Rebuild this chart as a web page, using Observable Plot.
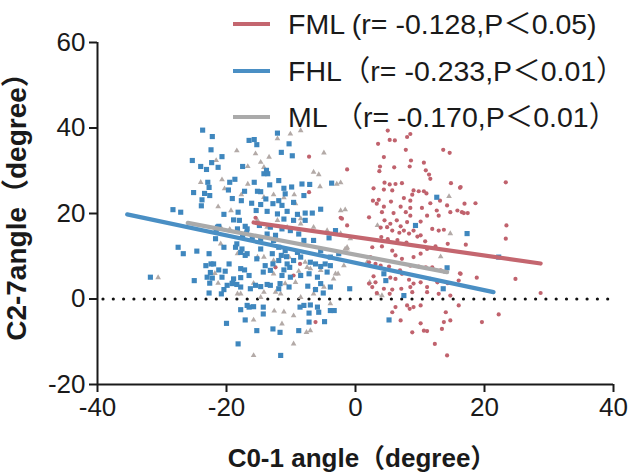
<!DOCTYPE html>
<html><head><meta charset="utf-8">
<script src="https://cdn.jsdelivr.net/npm/d3@7"></script>
<script src="https://cdn.jsdelivr.net/npm/@observablehq/plot@0.6"></script>
<style>
body{margin:0;background:#fff;}
#wrap{position:relative;width:635px;height:475px;}
svg{font-family:"Liberation Sans",Arial,"Noto Sans CJK SC",sans-serif;}
</style></head><body><div id="wrap"></div>
<script>
// ---- data ----
const xTicks = [-40, -20, 0, 20, 40];
const yTicks = [-20, 0, 20, 40, 60];
const xLabel = "C0-1 angle（degree）";
const yLabel = "C2-7angle（degree）";
const seriesNames = ["FML (r= -0.128,P＜0.05)", "FHL（r= -0.233,P＜0.01）", "ML （r= -0.170,P＜0.01）"];
const seriesColors = ["#c4666f", "#4a8fc4", "#aaaaaa"];

const fhlPts = [[-23.7,39.5],[-22.2,38.0],[-22.4,34.9],[-25.3,32.4],[-22.3,31.9],[-20.7,33.3],[-24.0,31.0],[-23.1,30.3],[-21.3,30.8],[-17.5,31.0],[-16.5,37.1],[-22.9,27.3],[-19.5,27.3],[-18.7,28.0],[-22.7,26.1],[-25.1,24.9],[-23.4,24.7],[-22.6,24.2],[-19.7,25.5],[-17.2,25.2],[-23.8,23.2],[-19.1,23.5],[-23.9,21.8],[-17.7,23.0],[-28.3,20.9],[-27.1,20.3],[-20.4,19.8],[-18.2,20.3],[-18.9,18.5],[-18.0,18.4],[-21.2,17.0],[-17.1,17.0],[-21.6,15.8],[-16.9,15.4],
[-12.1,38.8],[-10.3,36.3],[-15.7,37.3],[-15.3,36.1],[-11.5,34.3],[-9.8,33.5],[-13.8,30.1],[-14.2,29.3],[-13.6,29.3],[-11.9,27.7],[-15.7,27.3],[-13.3,26.7],[-11.1,25.9],[-9.9,26.2],[-8.3,26.9],[-7.1,26.8],[-3.7,27.1],[-15.2,25.2],[-14.7,25.1],[-10.9,24.6],[-8.0,24.2],[-13.9,23.4],[-11.9,23.0],[-16.1,22.4],[-14.7,22.1],[-12.8,22.3],[-11.4,21.9],[-9.6,22.6],[-5.4,21.0],[-15.4,20.7],[-13.7,20.5],[-12.1,19.9],[-10.6,20.5],[-9.0,19.8],[-7.8,20.1],[-6.7,20.1],[-11.1,18.7],[-9.6,18.4],[-7.8,18.4],[-14.9,17.2],[-13.2,16.8],[-11.4,16.4],[-10.1,16.0],[-8.8,15.2],[-12.4,14.9],[-4.1,14.3],
[-27.5,12.1],[-26.7,10.6],[-24.6,11.2],[-22.7,10.6],[-23.2,7.8],[-22.4,8.2],[-31.8,5.1],[-25.0,4.3],[-22.5,6.2],[-22.2,4.9],[-22.6,3.7],[-21.2,6.8],[-20.2,6.5],[-22.7,1.4],[-20.8,1.2],[-20.4,2.2],[-19.9,3.2],[-19.1,3.7],[-18.4,3.4],[-18.9,4.7],[-17.8,7.1],[-17.2,6.8],[-17.8,5.0],[-18.4,12.9],[-17.6,11.7],[-17.1,10.2],[-17.8,-2.5],[-17.1,-4.9],[-20.0,-5.7],[-18.2,-10.5],[-16.8,-1.5],
[-15.3,-7.4],[-12.8,-7.0],[-11.7,-7.8],[-8.8,-7.4],[-7.2,-5.4],[-4.8,-5.3],[-11.6,-13.2],[-15.8,-1.8],[-14.3,-1.9],[-14.3,-3.5],[-8.6,-1.9],[-8.0,-1.5],[-7.0,-1.4],[-5.9,-1.9],[-5.7,-3.1],[-3.9,-2.7],[-3.3,-2.7],[-7.2,-3.3],[-16.5,-1.9],
[-15.3,9.4],[-14.7,11.7],[-14.0,7.8],[-14.3,6.3],[-13.2,6.7],[-12.8,8.2],[-11.9,9.0],[-11.5,10.2],[-10.7,9.9],[-11.1,6.8],[-11.4,5.5],[-10.2,7.4],[-9.6,9.0],[-11.9,12.1],[-10.9,11.3],[-12.9,10.6],[-15.5,3.2],[-14.7,2.9],[-13.7,3.4],[-13.2,3.2],[-11.7,3.6],[-10.3,2.8],[-6.2,8.2],[-5.4,7.6],[-4.7,8.2],[-3.9,7.8],[-7.2,5.9],[-7.4,3.0],[-6.2,2.2],[-5.0,1.4],[-0.9,2.4],
[-21.4,16.8],[-21.7,14.1],[-20.4,12.1],[-18.3,16.4],[-16.8,16.4],[-16.0,14.5],[-17.5,14.9],[-14.7,14.1],[-13.7,15.2],[-12.7,13.7],[-8.0,13.7],[-6.5,13.7],[-18.6,12.1],[-17.8,10.9],[-16.8,10.6],[-19.6,8.2],[-16.5,5.5],[-22.0,8.2],[-23.0,5.1],[-20.7,5.1],[-19.1,3.6],[-17.8,2.8],[-16.3,2.4],
[-9.0,10.9],[-5.4,11.3],[-3.9,9.8],[-2.6,10.6],[-10.6,8.2],[-8.5,5.5],[-5.9,5.1],[-4.4,6.3],[-7.0,8.6],[-8.5,9.8],[-5.4,3.6],[-3.9,2.8],[-11.9,2.4],[-10.1,5.1],
[-3.1,16.0],[12.6,23.8],[9.3,17.2],[17.3,15.3],[4.4,5.9],[4.7,4.3],[7.5,0.8],[5.2,-4.9],[13.6,2.4],[14.2,7.3],[22.2,9.8]];

const fmlPts = [[-7.2,33.3],[-1.3,30.3],[-7.2,25.0],[-15.5,19.0],[-2.3,19.0],[-1.3,17.2],[2.1,19.1],[-8.6,8.2],[-9.6,5.5],[-6.3,2.4],[-6.2,-5.4],[-12.4,7.4],[2.1,3.6],[2.1,8.6],[-2.1,18.8],
[5.0,39.4],[8.5,38.6],[8.0,37.9],[5.3,37.2],[6.1,37.1],[3.5,36.3],[7.8,34.9],[13.6,34.9],[14.6,34.2],[4.4,33.2],[8.6,32.4],[10.6,31.9],[3.8,31.0],[6.0,30.8],[8.4,31.0],[3.7,29.9],[10.9,30.1],[11.4,29.1],[11.6,28.1],[4.5,27.2],[5.3,26.8],[6.2,26.9],[7.2,27.1],[14.8,27.1],[2.8,25.9],[4.4,25.6],[5.7,25.4],[9.0,25.4],[9.8,25.2],[10.6,25.2],[11.0,24.7],[16.2,26.0],[8.8,24.4],[7.5,23.6],[2.7,23.0],[3.6,23.2],[5.5,22.8],[8.5,23.0],[11.6,22.4],[13.1,23.0],[3.3,22.3],[4.4,21.6],[7.0,21.6],[8.5,21.3],[10.3,21.3],[12.6,20.7],[14.2,21.9],[4.1,20.3],[5.9,20.1],[7.8,20.3],[8.5,19.5],[11.1,19.5],[12.9,19.5],[14.7,20.3],[15.8,20.7],[16.5,20.3],[4.5,18.4],[5.4,17.6],[6.4,18.4],[7.0,17.0],[8.0,18.0],[10.1,18.1],[11.9,16.4],[12.9,16.0],[13.7,16.2],[4.9,16.8],[3.9,16.7],[5.7,16.0],[7.5,16.0],[9.0,16.0],[10.1,14.9],
[6.8,15.5],[8.3,15.3],[9.6,14.6],[10.8,13.5],[7.9,13.2],[6.5,13.8],[5.0,14.0],[4.0,14.5],
[2.6,12.1],[4.1,12.3],[5.7,11.3],[6.2,10.2],[7.2,9.4],[9.0,9.8],[10.1,10.6],[11.1,11.7],[12.4,12.3],[14.3,12.9],[3.1,8.2],[3.9,7.8],[5.2,7.6],[6.9,6.7],[7.2,5.9],[8.5,7.8],[9.8,7.6],[10.9,7.4],[11.9,7.4],[13.2,6.7],[16.2,6.0],[2.8,5.3],[3.1,3.9],[5.4,5.0],[6.2,4.7],[8.3,4.5],[9.0,3.6],[10.1,3.9],[11.6,4.7],[12.7,3.9],[14.3,3.7],[16.0,4.3],[2.6,2.8],[4.4,2.4],[5.7,2.2],[7.1,2.4],[8.5,2.8],[8.8,1.6],[11.1,2.8],[3.3,1.4],[5.3,1.2],[11.1,1.6],[12.9,1.2],[14.7,0.8],[16.0,-1.5],[8.0,-1.5],[8.4,-2.3],[9.0,-1.9],[10.1,-1.5],[5.7,-3.1],[6.2,-1.9],[14.0,-3.1],[7.0,-5.0],[10.1,-5.7],[13.7,-5.4],[14.7,-5.0],[10.6,-7.4],[13.4,-7.0],[8.8,-7.8],[11.1,-7.5],[12.3,-10.5],[14.2,-13.2],[2.3,9.8],
[16.3,26.2],[16.9,22.3],[18.6,22.4],[16.8,20.1],[17.4,20.1],[23.3,27.3],[23.4,17.2],[23.3,14.1],[17.1,12.7],[16.3,5.9],[18.8,5.0],[24.8,4.7],[28.7,1.4],[22.2,-3.6],[19.6,-5.4]];

const mlPts = [[-18.4,34.7],[-21.6,32.4],[-24.0,27.3],[-20.7,27.9],[-20.3,25.8],[-21.3,21.6],[-19.3,20.7],[-16.7,31.0],[-16.7,26.9],[-19.5,16.3],[-17.7,24.4],
[-10.1,38.6],[-8.5,39.4],[-12.1,37.5],[-13.4,33.2],[-4.9,34.2],[-6.5,29.7],[-5.7,29.1],[-5.5,26.3],[-2.9,26.9],[-2.3,27.2],[-14.7,32.0],[-14.2,30.8],[-9.5,24.4],[-9.3,22.3],[-2.3,20.7],[-1.6,20.9],[-15.5,34.0],[-11.1,23.7],[-12.7,24.4],[-8.5,17.6],[-14.2,23.8],
[-30.6,5.0],[-20.9,12.9],[-21.3,3.7],[-18.3,1.2],[-21.8,6.0],[-18.3,10.6],
[-14.2,9.8],[-12.7,5.9],[-7.8,8.6],[-7.0,7.1],[-8.8,6.5],[-2.7,5.9],[-1.8,7.8],[-1.3,11.7],[-9.3,3.9],[-4.9,2.8],[-3.9,-1.1],[-15.8,3.7],[-14.2,1.6],[-12.4,1.6],[-10.9,3.6],
[-12.6,-2.8],[-11.1,-3.0],[-11.4,-5.8],[-9.6,-3.9],[-7.6,-7.8],[-7.0,-7.4],[-9.6,-10.5],[-15.8,-4.9],[-15.8,-13.2],
[-20.9,16.8],[-19.4,16.0],[-15.2,18.4],[-13.7,16.8],[-12.1,18.4],[-10.6,16.8],[-8.5,18.8],[-6.5,16.8],[-4.4,16.0],[-2.3,15.3],[-1.3,12.1],[-15.2,9.8],[-12.7,9.0],[-10.3,9.8],[-7.5,7.4],[-5.4,6.7],[-3.4,4.7],[-17.8,1.2],[-14.7,0.4],[-11.6,1.2],[-8.5,0.4],[-6.5,1.2],
[-0.8,14.1],[-1.6,11.7],[-3.1,5.9],[3.4,1.2],[14.5,24.0],[3.4,17.2],[14.7,15.3],[2.2,3.9],[13.2,9.9],[4.1,0.8],[14.0,6.3],[1.8,8.6]];

// regression line end points
const fmlLineX = [-15.8, 28.7], fmlLineY = [17.9, 8.3];
const fhlLineX = [-35.4, 21.4], fhlLineY = [19.8, 1.6];
const mlLineX  = [-26.0, 14.2], mlLineY  = [17.8, 6.3];

// ---- chart ----
const toRows = (xs, ys) => xs.map((x, i) => ({x, y: ys[i]}));
const textColor = "#1a1a1a";

const chart = Plot.plot({
  width: 635, height: 475,
  marginLeft: 97, marginRight: 22, marginTop: 42, marginBottom: 91,
  x: {domain: [xTicks[0], xTicks[xTicks.length - 1]]},
  y: {domain: [yTicks[0], yTicks[yTicks.length - 1]]},
  style: {background: "#fff", color: textColor, overflow: "visible"},
  marks: [
    Plot.ruleY([0], {stroke: "#111", strokeWidth: 3.2, strokeLinecap: "round", strokeDasharray: "0 10.3", strokeDashoffset: -6}),
    Plot.dot(mlPts, {x: d => d[0], y: d => d[1], symbol: "triangle", r: 2.1, fill: "#b3aaa7"}),
    Plot.dot(fmlPts, {x: d => d[0], y: d => d[1], symbol: "circle", r: 2.1, fill: "#c0626d"}),
    Plot.dot(fhlPts, {x: d => d[0], y: d => d[1], symbol: "square", r: 2.9, fill: "#3f87be"}),
    Plot.line(toRows(mlLineX, mlLineY), {x: "x", y: "y", stroke: seriesColors[2], strokeWidth: 4.2}),
    Plot.line(toRows(fhlLineX, fhlLineY), {x: "x", y: "y", stroke: seriesColors[1], strokeWidth: 4.2}),
    Plot.line(toRows(fmlLineX, fmlLineY), {x: "x", y: "y", stroke: seriesColors[0], strokeWidth: 4.2}),
    Plot.ruleX([xTicks[0]], {stroke: textColor, strokeWidth: 2}),
    Plot.ruleY([yTicks[0]], {stroke: textColor, strokeWidth: 2}),
    Plot.axisX({ticks: xTicks, tickSize: 8, tickPadding: 5, fontSize: 26, tickFormat: d => String(d), label: null, strokeWidth: 2, stroke: textColor}),
    Plot.axisY({ticks: yTicks, tickSize: 8, tickPadding: 4, fontSize: 26, tickFormat: d => String(d), label: null, strokeWidth: 2, stroke: textColor})
  ]
});

document.getElementById("wrap").appendChild(chart);

const svg = d3.select(chart);
// axis titles
svg.append("text").attr("x", 362).attr("y", 467).attr("text-anchor", "middle")
  .attr("font-size", 26).attr("font-weight", "bold").attr("fill", textColor).text(xLabel);
svg.append("text").attr("transform", "translate(26,200) rotate(-90)").attr("text-anchor", "middle")
  .attr("font-size", 28).attr("font-weight", "bold").attr("fill", textColor).text(yLabel);

// legend
const legendY = [24, 71, 117];
seriesNames.forEach((name, i) => {
  svg.append("line").attr("x1", 233).attr("x2", 270).attr("y1", legendY[i]).attr("y2", legendY[i])
    .attr("stroke", seriesColors[i]).attr("stroke-width", 4);
  svg.append("text").attr("x", 288).attr("y", legendY[i]).attr("dy", "0.36em")
    .attr("text-anchor", "start")
    .attr("font-size", 28.5).attr("fill", textColor).text(name);
});
</script></body></html>
